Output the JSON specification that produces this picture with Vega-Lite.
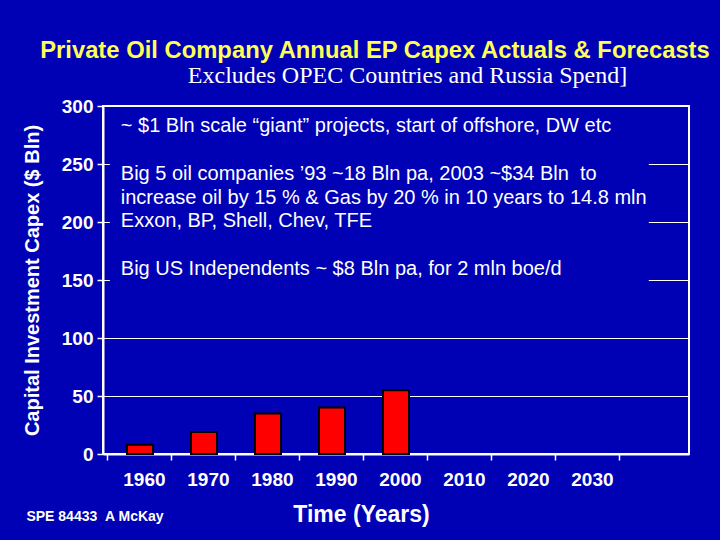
{
  "$schema": "https://vega.github.io/schema/vega-lite/v6.json",
  "width": 586,
  "height": 348,
  "autosize": "none",
  "padding": {"left": 103, "top": 106, "right": 31, "bottom": 86},
  "background": "#0000B4",
  "config": {
    "view": {"stroke": "#FFFFFF", "strokeWidth": 2},
    "font": "Liberation Sans"
  },
  "data": {
    "values": [
      {"year": 1960, "capex": 8},
      {"year": 1970, "capex": 19},
      {"year": 1980, "capex": 35},
      {"year": 1990, "capex": 40},
      {"year": 2000, "capex": 55}
    ]
  },
  "layer": [
    {
      "data": {"values": [{}]},
      "mark": {"type": "rect", "fill": "#0000B4"},
      "encoding": {
        "x": {"datum": 1955.3, "type": "quantitative"},
        "x2": {"datum": 2039.5},
        "y": {"datum": 125, "type": "quantitative"},
        "y2": {"datum": 298.8}
      }
    },
    {
      "mark": {"type": "bar", "orient": "vertical", "width": 26, "fill": "#FF0000", "stroke": "#000000", "strokeWidth": 2},
      "encoding": {
        "x": {
          "field": "year",
          "type": "quantitative",
          "scale": {"domain": [1955, 2045], "nice": false, "zero": false},
          "axis": {
            "values": [1960, 1970, 1980, 1990, 2000, 2010, 2020, 2030, 2040, 2050],
            "format": "d",
            "labelExpr": "datum.value > 2030 ? '' : (datum.value >= 2010 ? '\u00a0\u00a0' + datum.label : datum.label)",
            "grid": false,
            "domainColor": "#FFFFFF",
            "domainWidth": 2,
            "tickColor": "#FFFFFF",
            "tickWidth": 1.5,
            "tickSize": 6,
            "tickOffset": -32.56,
            "labelOffset": 36.5,
            "labelColor": "#FFFFFF",
            "labelFont": "Liberation Sans",
            "labelFontSize": 19,
            "labelFontWeight": "bold",
            "labelPadding": 10,
            "labelFlush": false,
            "labelOverlap": false,
            "title": "Time (Years)",
            "titleColor": "#FFFFFF",
            "titleFont": "Liberation Sans",
            "titleFontSize": 23,
            "titleFontWeight": "bold",
            "titleX": 258,
            "titleY": 67.7,
            "titleBaseline": "alphabetic",
            "titleAlign": "center"
          }
        },
        "y": {
          "field": "capex",
          "type": "quantitative",
          "scale": {"domain": [0, 300], "nice": false},
          "axis": {
            "values": [0, 50, 100, 150, 200, 250, 300],
            "grid": true,
            "gridColor": "#FFFFFF",
            "gridWidth": 1.2,
            "domainColor": "#FFFFFF",
            "domainWidth": 2,
            "tickColor": "#FFFFFF",
            "tickWidth": 1.5,
            "tickSize": 6,
            "labelColor": "#FFFFFF",
            "labelFont": "Liberation Sans",
            "labelFontSize": 19,
            "labelFontWeight": "bold",
            "labelPadding": 4,
            "title": "Capital Investment Capex ($ Bln)",
            "titleColor": "#FFFFFF",
            "titleFont": "Liberation Sans",
            "titleFontSize": 20,
            "titleFontWeight": "bold",
            "titleX": -71,
            "titleY": 174,
            "titleAngle": -90,
            "titleBaseline": "middle",
            "titleAlign": "center"
          }
        }
      }
    },
    {
      "data": {"values": [{}]},
      "mark": {"type": "text", "align": "left", "baseline": "alphabetic", "color": "#FFFF55", "font": "Liberation Sans", "fontSize": 23.8, "fontWeight": "bold"},
      "encoding": {
        "x": {"datum": 1944.4, "type": "quantitative"},
        "y": {"datum": 341.4, "type": "quantitative"},
        "text": {"value": "Private Oil Company Annual EP Capex Actuals & Forecasts"}
      }
    },
    {
      "data": {"values": [{}]},
      "mark": {"type": "text", "align": "left", "baseline": "alphabetic", "color": "#FFFFFF", "font": "Liberation Sans", "fontSize": 20},
      "encoding": {
        "x": {"datum": 1957.0, "type": "quantitative"},
        "y": {"datum": 277.6, "type": "quantitative"},
        "text": {"value": "~ $1 Bln scale “giant” projects, start of offshore, DW etc"}
      }
    },
    {
      "data": {"values": [{}]},
      "mark": {"type": "text", "align": "left", "baseline": "alphabetic", "color": "#FFFFFF", "font": "Liberation Sans", "fontSize": 20},
      "encoding": {
        "x": {"datum": 1957.0, "type": "quantitative"},
        "y": {"datum": 235.8, "type": "quantitative"},
        "text": {"value": "Big 5 oil companies ’93 ~18 Bln pa, 2003 ~$34 Bln \u00a0to"}
      }
    },
    {
      "data": {"values": [{}]},
      "mark": {"type": "text", "align": "left", "baseline": "alphabetic", "color": "#FFFFFF", "font": "Liberation Sans", "fontSize": 20},
      "encoding": {
        "x": {"datum": 1957.0, "type": "quantitative"},
        "y": {"datum": 215.5, "type": "quantitative"},
        "text": {"value": "increase oil by 15 % & Gas by 20 % in 10 years to 14.8 mln"}
      }
    },
    {
      "data": {"values": [{}]},
      "mark": {"type": "text", "align": "left", "baseline": "alphabetic", "color": "#FFFFFF", "font": "Liberation Sans", "fontSize": 20},
      "encoding": {
        "x": {"datum": 1957.0, "type": "quantitative"},
        "y": {"datum": 195.3, "type": "quantitative"},
        "text": {"value": "Exxon, BP, Shell, Chev, TFE"}
      }
    },
    {
      "data": {"values": [{}]},
      "mark": {"type": "text", "align": "left", "baseline": "alphabetic", "color": "#FFFFFF", "font": "Liberation Sans", "fontSize": 20},
      "encoding": {
        "x": {"datum": 1957.0, "type": "quantitative"},
        "y": {"datum": 153.9, "type": "quantitative"},
        "text": {"value": "Big US Independents ~ $8 Bln pa, for 2 mln boe/d"}
      }
    },
    {
      "data": {"values": [{}]},
      "mark": {"type": "text", "align": "center", "baseline": "alphabetic", "color": "#FFFFFF", "font": "Liberation Serif", "fontSize": 24},
      "encoding": {
        "x": {"datum": 2001.8, "type": "quantitative"},
        "y": {"datum": 319.8, "type": "quantitative"},
        "text": {"value": "Excludes OPEC Countries and Russia Spend]"}
      }
    },
    {
      "data": {"values": [{}]},
      "mark": {"type": "text", "align": "left", "baseline": "alphabetic", "color": "#FFFFFF", "font": "Liberation Sans", "fontSize": 14, "fontWeight": "bold"},
      "encoding": {
        "x": {"datum": 1942.25, "type": "quantitative"},
        "y": {"datum": -57.8, "type": "quantitative"},
        "text": {"value": "SPE 84433 \u00a0A McKay"}
      }
    }
  ]
}
